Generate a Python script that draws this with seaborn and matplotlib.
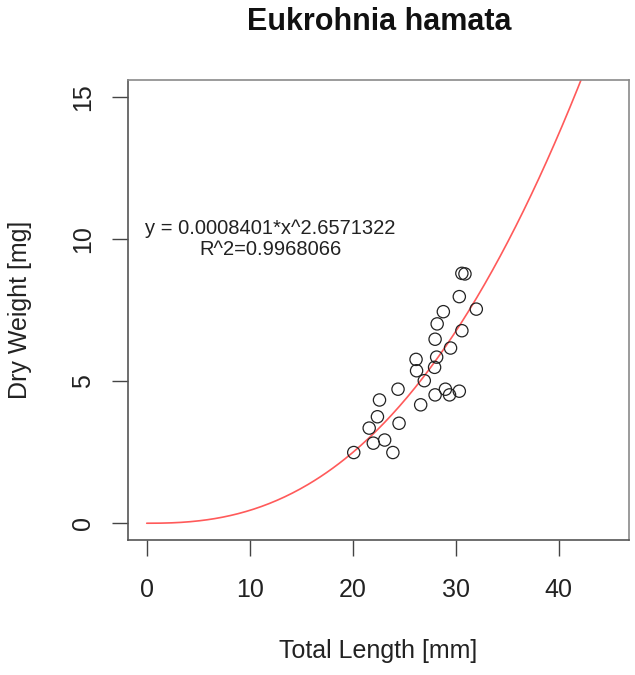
import numpy as np
import pandas as pd
import matplotlib
matplotlib.use("Agg")
import matplotlib.pyplot as plt
import seaborn as sns

# Eukrohnia hamata : longueur totale (mm) et poids sec (mg)
longueur_mm = [20.1, 21.6, 22.0, 22.4, 22.6, 23.1, 23.9, 24.4, 24.5, 26.6,
               26.15, 26.2, 26.95, 28.0, 28.2, 28.15, 27.95, 28.0, 28.8, 29.0,
               29.4, 29.5, 30.35, 30.35, 30.6, 30.6, 30.9, 32.0]
poids_mg = [2.49, 3.35, 2.82, 3.75, 4.34, 2.93, 2.49, 4.72, 3.52, 4.17,
            5.77, 5.37, 5.02, 6.48, 7.02, 5.85, 5.49, 4.52, 7.45, 4.72,
            4.52, 6.17, 4.65, 7.98, 6.78, 8.80, 8.78, 7.54]

# courbe tracée (modèle puissance y = a * x^b)
coef_a = 0.00157
coef_b = 2.46
texte_equation = "y = 0.0008401*x^2.6571322\nR^2=0.9968066"

x_ticks = [0, 10, 20, 30, 40]
y_ticks = [0, 5, 10, 15]

df = pd.DataFrame({"longueur": longueur_mm, "poids": poids_mg})
x_courbe = np.linspace(0, 45, 300)
df_courbe = pd.DataFrame({"longueur": x_courbe, "poids": coef_a * x_courbe ** coef_b})

sns.set_style("white")
plt.rcParams["font.family"] = ["Liberation Sans", "DejaVu Sans"]

fig = plt.figure(figsize=(6.35, 6.75), dpi=100)
ax = fig.add_axes([0.2019, 0.1996, 0.7882, 0.6815])

sns.lineplot(data=df_courbe, x="longueur", y="poids", ax=ax,
             color="#ff5a5a", linewidth=1.2, zorder=2)
sns.scatterplot(data=df, x="longueur", y="poids", ax=ax, s=78,
                facecolor="none", edgecolor="#222222", linewidth=0.9, zorder=3)

ax.text(12, 10, texte_equation, ha="center", va="center", fontsize=14.5,
        color="#222222", linespacing=1.15)

ax.set_xlim(-1.8, 46.8)
ax.set_ylim(-0.6, 15.6)
ax.set_xticks(x_ticks)
ax.set_yticks(y_ticks)
ax.set_yticklabels([str(v) for v in y_ticks], rotation=90, va="center")
ax.tick_params(axis="both", direction="out", length=11.5, width=1.0,
               bottom=True, left=True, color="#444444",
               labelsize=18, labelcolor="#222222")
ax.tick_params(axis="x", pad=15.5)
ax.tick_params(axis="y", pad=12.5)

for nom, sp in ax.spines.items():
    sp.set_visible(True)
    sp.set_linewidth(1.2)
    sp.set_color("#555555" if nom in ("left", "bottom") else "#8a8a8a")

ax.set_xlabel("Total Length [mm]", fontsize=18, color="#222222")
ax.set_ylabel("Dry Weight [mg]", fontsize=18, color="#222222")
ax.xaxis.set_label_coords(0.5, -0.2415)
ax.xaxis.label.set_va("center")
ax.yaxis.set_label_coords(-0.2166, 0.5)
ax.yaxis.label.set_va("center")
fig.text(0.5976, 1 - 22 / 675, "Eukrohnia hamata", fontsize=22, fontweight="bold",
         ha="center", va="center", color="#111111")

fig.savefig("out.png", dpi=100)
plt.close(fig)
